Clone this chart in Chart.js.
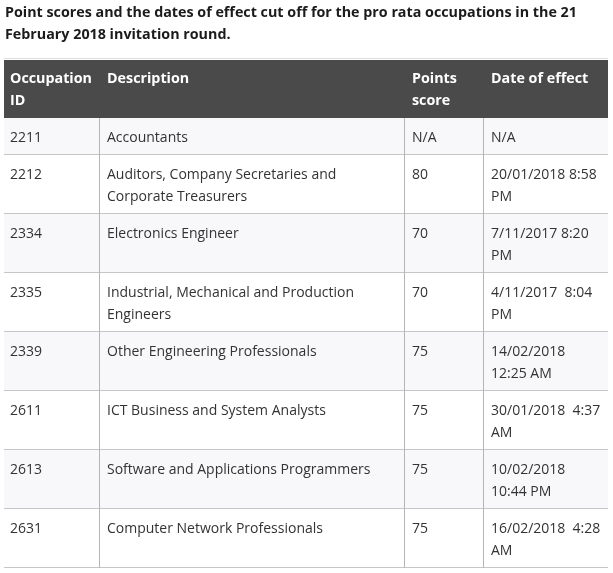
<!DOCTYPE html>
<html><head><meta charset="utf-8">
<script src="https://cdn.jsdelivr.net/npm/chart.js@4.4.1/dist/chart.umd.min.js"></script>
<style>html,body{margin:0;padding:0;background:#fff;overflow:hidden}#wrap{width:613px;height:573px;position:relative}</style>
</head><body><div id="wrap"><canvas id="c" width="613" height="573"></canvas></div>
<script>
// ---- data ----
const titleLines = [
  "Point scores and the dates of effect cut off for the pro rata occupations in the 21",
  "February 2018 invitation round."
];
const headers = [["Occupation", "ID"], ["Description"], ["Points", "score"], ["Date of effect"]];
const ids = ["2211", "2212", "2334", "2335", "2339", "2611", "2613", "2631"];
const descriptions = [
  ["Accountants"],
  ["Auditors, Company Secretaries and", "Corporate Treasurers"],
  ["Electronics Engineer"],
  ["Industrial, Mechanical and Production", "Engineers"],
  ["Other Engineering Professionals"],
  ["ICT Business and System Analysts"],
  ["Software and Applications Programmers"],
  ["Computer Network Professionals"]
];
const scores = ["N/A", "80", "70", "70", "75", "75", "75", "75"];
const dates = [
  ["N/A"],
  ["20/01/2018 8:58", "PM"],
  ["7/11/2017 8:20", "PM"],
  ["4/11/2017  8:04", "PM"],
  ["14/02/2018", "12:25 AM"],
  ["30/01/2018  4:37", "AM"],
  ["10/02/2018", "10:44 PM"],
  ["16/02/2018  4:28", "AM"]
];

// ---- layout (styles/positions) ----
const W = 613, H = 573;
const colEdges = [4, 100, 405, 484, 608];
const textPad = [6, 7, 7, 7];
const headerTop = 60, headerH = 58;
const lineH = 22, rowExtra = 15, firstLineOff = 20;
const FONT = "'Open Sans', 'Noto Sans', sans-serif";

const tablePlugin = {
  id: 'tablePlugin',
  afterDraw(chart) {
    const ctx = chart.ctx, sx = chart.scales.x, sy = chart.scales.y;
    const X = v => sx.getPixelForValue(v), Y = v => sy.getPixelForValue(v);
    ctx.save();
    ctx.textBaseline = 'middle';
    ctx.textAlign = 'left';
    // title
    ctx.fillStyle = '#1b1b1b';
    ctx.font = "bold 14.3px " + FONT;
    titleLines.forEach((t, i) => ctx.fillText(t, X(5), Y(13 + i * 21.5)));
    // faint top rule
    ctx.strokeStyle = '#dedede'; ctx.lineWidth = 1;
    ctx.beginPath(); ctx.moveTo(X(colEdges[0]), Y(58.5)); ctx.lineTo(X(colEdges[4]), Y(58.5)); ctx.stroke();
    // header
    ctx.fillStyle = '#4a4a4a';
    ctx.fillRect(X(colEdges[0]), Y(headerTop), X(colEdges[4]) - X(colEdges[0]), Y(headerTop + headerH) - Y(headerTop));
    ctx.fillStyle = '#ffffff';
    ctx.font = "bold 14.3px " + FONT;
    headers.forEach((lines, c) => lines.forEach((t, k) =>
      ctx.fillText(t, X(colEdges[c] + textPad[c]), Y(headerTop + 19 + k * lineH))));
    // rows
    const cols = [ids.map(s => [s]), descriptions, scores.map(s => [s]), dates];
    let top = headerTop + headerH;
    const tops = [];
    ids.forEach((_, r) => {
      const n = Math.max(...cols.map(col => col[r].length));
      const h = n * lineH + rowExtra;
      tops.push([top, h]);
      if (r % 2 === 0) {
        ctx.fillStyle = '#f8f8fa';
        ctx.fillRect(X(colEdges[0]), Y(top), X(colEdges[4]) - X(colEdges[0]), Y(top + h) - Y(top));
      }
      ctx.fillStyle = '#333333';
      ctx.font = "14px " + FONT;
      cols.forEach((col, c) => col[r].forEach((t, k) =>
        ctx.fillText(t, X(colEdges[c] + textPad[c]), Y(top + firstLineOff + k * lineH))));
      top += h;
    });
    // horizontal lines
    ctx.strokeStyle = '#c6c6c6'; ctx.lineWidth = 1;
    tops.forEach(([t, h]) => {
      const yy = Math.round(Y(t + h)) - 0.5;
      ctx.beginPath(); ctx.moveTo(X(colEdges[0]), yy); ctx.lineTo(X(colEdges[4]), yy); ctx.stroke();
    });
    // vertical lines
    ctx.strokeStyle = '#b5b5b5';
    for (let c = 1; c < 4; c++) {
      const xx = Math.round(X(colEdges[c])) - 0.5;
      ctx.beginPath(); ctx.moveTo(xx, Y(headerTop + headerH)); ctx.lineTo(xx, Y(top)); ctx.stroke();
    }
    ctx.restore();
  }
};

new Chart(document.getElementById('c'), {
  type: 'scatter',
  data: { datasets: [] },
  options: {
    responsive: false,
    animation: false,
    layout: { padding: 0 },
    plugins: { legend: { display: false }, tooltip: { enabled: false }, title: { display: false } },
    scales: {
      x: { type: 'linear', min: 0, max: W, display: false },
      y: { type: 'linear', min: 0, max: H, reverse: true, display: false }
    }
  },
  plugins: [tablePlugin]
});
</script>
</body></html>
